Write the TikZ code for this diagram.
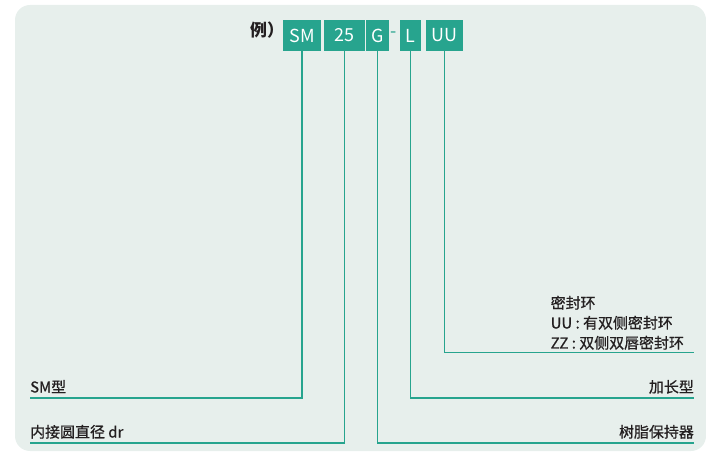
\documentclass[tikz,border=0pt]{standalone}
\usepackage{fontspec}
\setmainfont{Noto Sans CJK SC}
\newfontfamily\lblfont{Noto Sans CJK SC}[FakeBold=0.8]
\definecolor{bgc}{HTML}{E7EFEC}
\definecolor{tealc}{HTML}{27A48E}
\definecolor{txt}{HTML}{231F20}
\begin{document}
\begin{tikzpicture}[x=1bp,y=-1bp,
  code/.style={fill=tealc, text=white, inner sep=0pt, minimum height=31bp, font=\fontsize{18}{20}\selectfont},
  lbl/.style={inner sep=0pt, text=txt, font=\lblfont\fontsize{15}{20}\selectfont},
  lead/.style={draw=tealc, line width=1.3bp}]
\useasboundingbox (0,0) rectangle (706,453);
\fill[bgc, rounded corners=15bp] (15,5) rectangle (706,451);
% code boxes
\node[code, minimum width=37.5bp] (sm) at (302,35.5) {SM};
\node[code, minimum width=41bp] (n25) at (344.5,35.5) {25};
\node[code, minimum width=22.5bp] (g) at (377.5,35.5) {G};
\node[inner sep=0pt, text=tealc, font=\fontsize{18}{20}\selectfont] (dash) at (394,35) {-};
\node[code, minimum width=21.5bp] (l) at (410.7,35.5) {L};
\node[code, minimum width=37bp] (uu) at (444.7,35.5) {UU};
\node[inner sep=0pt, text=txt, font=\fontsize{17}{20}\selectfont\bfseries, anchor=base west] (ex) at (250,36.5) {例）};
% labels
\node[lbl, anchor=base west] (tsm) at (30,392.5) {SM型};
\node[lbl, anchor=base west] (tdr) at (30,437.5) {内接圆直径 dr};
\node[lbl, anchor=base east] (tl) at (694,392.5) {加长型};
\node[lbl, anchor=base east] (tg) at (694,437.5) {树脂保持器};
\node[lbl, anchor=base west] (tuu1) at (550.5,308.5) {密封环};
\node[lbl, anchor=base west] (tuu2) at (550.5,328.5) {UU : 有双侧密封环};
\node[lbl, anchor=base west] (tuu3) at (550.5,348.5) {ZZ : 双侧双唇密封环};
% line ends
\coordinate (esm) at (30,398);
\coordinate (edr) at (30,443);
\coordinate (el) at (694,398);
\coordinate (eg) at (694,443);
\coordinate (euu) at (694,352.5);
% leaders
\draw[lead] (sm.south) |- (esm);
\draw[lead] (n25.south) |- (edr);
\draw[lead] (g.south) |- (eg);
\draw[lead] (l.south) |- (el);
\draw[lead] (uu.south) |- (euu);
\end{tikzpicture}
\end{document}
